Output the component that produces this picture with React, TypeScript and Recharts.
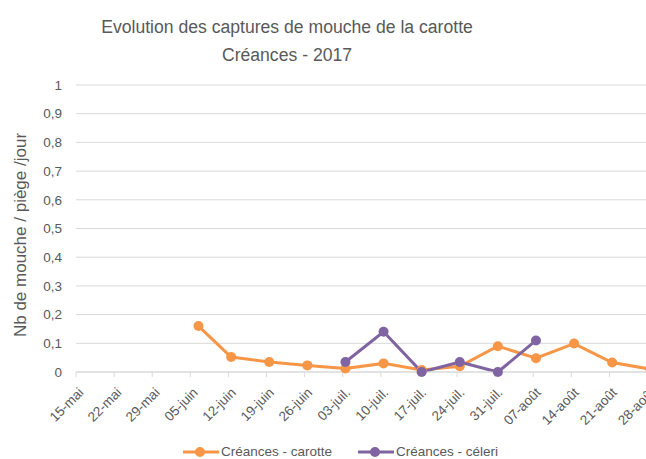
import { LineChart, Line, XAxis, YAxis, CartesianGrid, Legend } from "recharts";

const tickDates = [
  "2017-05-15", "2017-05-22", "2017-05-29", "2017-06-05", "2017-06-12", "2017-06-19",
  "2017-06-26", "2017-07-03", "2017-07-10", "2017-07-17", "2017-07-24", "2017-07-31",
  "2017-08-07", "2017-08-14", "2017-08-21", "2017-08-28",
];
const tickLabels = [
  "15-mai", "22-mai", "29-mai", "05-juin", "12-juin", "19-juin", "26-juin", "03-juil.",
  "10-juil.", "17-juil.", "24-juil.", "31-juil.", "07-août", "14-août", "21-août", "28-août",
];

const carotteDates = [
  "2017-06-06", "2017-06-12", "2017-06-19", "2017-06-26", "2017-07-03", "2017-07-10",
  "2017-07-17", "2017-07-24", "2017-07-31", "2017-08-07", "2017-08-14", "2017-08-21",
  "2017-08-28",
];
const carotteValues = [0.16, 0.052, 0.035, 0.023, 0.012, 0.03, 0.007, 0.02, 0.09, 0.048, 0.099, 0.033, 0.01];

const celeriDates = ["2017-07-03", "2017-07-10", "2017-07-17", "2017-07-24", "2017-07-31", "2017-08-07"];
const celeriValues = [0.035, 0.14, 0, 0.035, 0, 0.11];

const yTicks = [0, 0.1, 0.2, 0.3, 0.4, 0.5, 0.6, 0.7, 0.8, 0.9, 1];

const ORANGE = "#F79646";
const PURPLE = "#8064A2";
const TEXT = "#595959";
const FONT = "'Liberation Sans', Arial, sans-serif";

// days since the first tick (15-mai)
const dayOf = (d: string) => {
  const [y, m, day] = d.split("-").map(Number);
  return (Date.UTC(y, m - 1, day) - Date.UTC(2017, 4, 15)) / 86400000;
};

const tickDays = tickDates.map(dayOf);
// excel date axis: each point sits in the middle of its day
const carotte = carotteDates.map((d, i) => ({ x: dayOf(d) + 0.5, v: carotteValues[i] }));
const celeri = celeriDates.map((d, i) => ({ x: dayOf(d) + 0.5, v: celeriValues[i] }));

const DateTick = ({ x, y, payload }: any) => {
  const label = tickLabels[tickDays.indexOf(payload.value)];
  const tx = x + 5;
  const ty = y + 11;
  return (
    <text
      x={tx}
      y={ty}
      transform={`rotate(-45, ${tx}, ${ty})`}
      textAnchor="end"
      dy="0.35em"
      fill={TEXT}
      fontSize={13.5}
      fontFamily={FONT}
    >
      {label}
    </text>
  );
};

const legendItems = [
  { name: "Créances - carotte", color: ORANGE, left: 183 },
  { name: "Créances - céleri", color: PURPLE, left: 358 },
];

const LegendContent = () => (
  <div style={{ position: "relative", height: 20 }}>
    {legendItems.map((it) => (
      <div
        key={it.name}
        style={{
          position: "absolute",
          left: it.left,
          top: 6,
          display: "flex",
          alignItems: "center",
          fontFamily: FONT,
          fontSize: 13.5,
          lineHeight: "14px",
          color: TEXT,
          whiteSpace: "nowrap",
        }}
      >
        <svg width={36} height={12}>
          <line x1={0} y1={6} x2={36} y2={6} stroke={it.color} strokeWidth={3} />
          <circle cx={17} cy={6} r={5} fill={it.color} />
        </svg>
        <span style={{ marginLeft: 2 }}>{it.name}</span>
      </div>
    ))}
  </div>
);

export default function App() {
  return (
    <div style={{ position: "absolute", left: 0, top: 0, width: 646, height: 459, overflow: "hidden", background: "#fff" }}>
      <LineChart width={672} height={459} margin={{ top: 85, right: 19, bottom: 0, left: 0 }}>
        <text x={287} y={33} textAnchor="middle" fill={TEXT} fontSize={17.6} fontFamily={FONT}>
          Evolution des captures de mouche de la carotte
        </text>
        <text x={287} y={61} textAnchor="middle" fill={TEXT} fontSize={17.6} fontFamily={FONT}>
          Créances - 2017
        </text>
        <text
          x={20}
          y={235}
          transform="rotate(-90, 20, 235)"
          textAnchor="middle"
          dominantBaseline="central"
          fill={TEXT}
          fontSize={17}
          fontFamily={FONT}
        >
          Nb de mouche / piège /jour
        </text>
        <CartesianGrid vertical={false} stroke="#d9d9d9" />
        <XAxis
          type="number"
          dataKey="x"
          domain={[0, 106]}
          ticks={tickDays}
          interval={0}
          allowDataOverflow
          tick={<DateTick />}
          tickSize={5}
          axisLine={{ stroke: "#d9d9d9" }}
          tickLine={{ stroke: "#d9d9d9" }}
          height={67}
        />
        <YAxis
          type="number"
          domain={[0, 1]}
          ticks={yTicks}
          interval={0}
          width={76}
          axisLine={false}
          tickLine={false}
          tickSize={0}
          tickMargin={14}
          tickFormatter={(v: number) => String(v).replace(".", ",")}
          tick={{ fill: TEXT, fontSize: 13.5, fontFamily: FONT }}
        />
        <Legend verticalAlign="bottom" height={20} content={<LegendContent />} />
        <Line
          data={carotte}
          dataKey="v"
          name="Créances - carotte"
          type="linear"
          stroke={ORANGE}
          strokeWidth={3}
          dot={{ r: 5, fill: ORANGE, stroke: ORANGE, strokeWidth: 0 }}
          activeDot={false}
          isAnimationActive={false}
        />
        <Line
          data={celeri}
          dataKey="v"
          name="Créances - céleri"
          type="linear"
          stroke={PURPLE}
          strokeWidth={3}
          dot={{ r: 5, fill: PURPLE, stroke: PURPLE, strokeWidth: 0 }}
          activeDot={false}
          isAnimationActive={false}
        />
      </LineChart>
    </div>
  );
}
